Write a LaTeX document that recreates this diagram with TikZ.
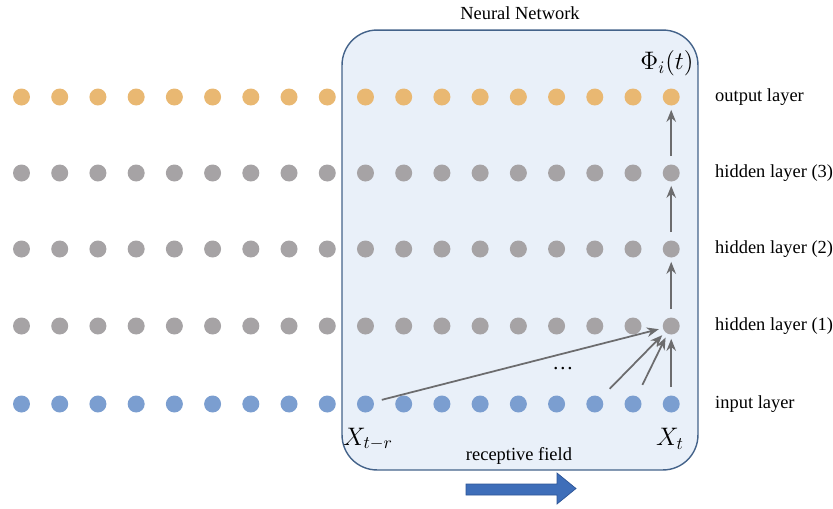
\documentclass[tikz,border=0pt]{standalone}
\usepackage{amsmath}
\usepackage{fontspec}
\setmainfont{Liberation Serif}
\usepackage[dvipsnames]{xcolor}
\usetikzlibrary{arrows.meta,positioning}
\definecolor{outOrange}{RGB}{233,184,114}
\definecolor{hidGray}{RGB}{166,163,165}
\definecolor{inBlue}{RGB}{123,158,208}
\definecolor{nnFill}{RGB}{233,240,249}
\definecolor{nnEdge}{RGB}{68,99,138}
\definecolor{linkGray}{RGB}{108,108,110}
\definecolor{fieldBlue}{RGB}{62,110,185}
\definecolor{fieldEdge}{RGB}{45,85,150}
\tikzset{
    unit/.style={circle, inner sep=0pt, minimum size=0.34cm},
    link/.style={-{Stealth[length=2.4mm,width=1.9mm]}, linkGray, line width=1pt, shorten <=0.16cm, shorten >=0.08cm},
    layername/.style={anchor=west, font=\fontsize{10.5}{12}\selectfont}
}
\newcommand{\drawLayer}[3]{
    \foreach \i in {1,...,18}
        \node[unit, fill=#3] (#1\i) at ({21.5+38.22*(\i-1)},#2) {};
}

\begin{document}
\begin{tikzpicture}[x=0.02cm, y=-0.02cm, font=\fontsize{10.5}{12}\selectfont]
            \useasboundingbox (0,0) rectangle (833,508);
            % the network box
            \node[draw=nnEdge, fill=nnFill, thick, rounded corners=0.7cm, minimum width=7.12cm, minimum height=8.8cm] (nn) at (520,250) {};
            \node (nntitle) at (520,13) {Neural Network};

            \drawLayer{o}{97}{outOrange}
            \drawLayer{c}{173}{hidGray}
            \drawLayer{b}{249}{hidGray}
            \drawLayer{a}{326}{hidGray}
            \drawLayer{x}{404}{inBlue}

            \node[layername] (lo) at (709,97) {output layer};
            \node[layername] (lc) at (709,173) {hidden layer (3)};
            \node[layername] (lb) at (709,249) {hidden layer (2)};
            \node[layername] (la) at (709,326) {hidden layer (1)};
            \node[layername] (lx) at (709,404) {input layer};

            \node (phi) at (667,63) {\Large $\Phi_i(t)$};
            \node (xtr) at (368,439) {\Large $X_{t-r}$};
            \node (xt) at (670,439) {\Large $X_t$};
            \node (ddd) at (563,369) {\large\dots};
            \node (rf) at (519,456) {receptive field};

            \draw[link] (x10) -- (a18);
            \draw[link, shorten <=0.25cm] (x16) -- (a18);
            \draw[link, shorten <=0.25cm] (x17) -- (a18);
            \draw[link] (x18) -- (a18);
            \draw[link] (a18) -- (b18);
            \draw[link] (b18) -- (c18);
            \draw[link] (c18) -- (o18);

            \filldraw[fill=fieldBlue, draw=fieldEdge] (466,484) -- (557,484) -- (557,473) -- (576,488.5) -- (557,504) -- (557,495) -- (466,495) -- cycle;
\end{tikzpicture}
\end{document}
